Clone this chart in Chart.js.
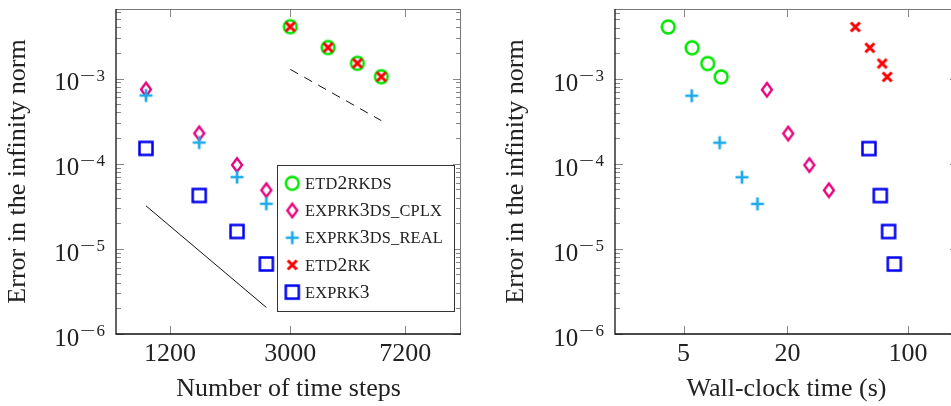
<!DOCTYPE html>
<html>
<head>
<meta charset="utf-8">
<script src="https://cdn.jsdelivr.net/npm/chart.js@4.4.1/dist/chart.umd.min.js"></script>
<style>
  html, body { margin: 0; padding: 0; width: 951px; height: 406px; overflow: hidden; background: #fff; }
  .panel { position: absolute; top: 0; }
</style>
</head>
<body>
<div class="panel" style="left:0"><canvas id="steps" width="470" height="406"></canvas></div>
<div class="panel" style="left:470px"><canvas id="clock" width="500" height="406"></canvas></div>
<script>
// series names (drawn in small caps)
const methodNames = ['etd2rkds', 'exprk3ds_cplx', 'exprk3ds_real', 'etd2rk', 'exprk3'];

// number of time steps
const stepsEtd = [3000, 4000, 5000, 6000];
const stepsRk3 = [1000, 1500, 2000, 2500];

// error in the infinity norm
const errEtd2rkds = [4.06e-3, 2.31e-3, 1.51e-3, 1.05e-3];
const errEtd2rk   = [4.06e-3, 2.31e-3, 1.51e-3, 1.05e-3];
const errCplx     = [7.43e-4, 2.27e-4, 9.66e-5, 4.89e-5];
const errReal     = [6.32e-4, 1.77e-4, 6.96e-5, 3.38e-5];
const errRk3      = [1.51e-4, 4.23e-5, 1.60e-5, 6.64e-6];

// wall-clock time (s)
const timeEtd2rkds = [4.07, 5.6, 6.9, 8.25];
const timeCplx     = [15.2, 20.2, 26.8, 34.8];
const timeReal     = [5.57, 8.09, 10.9, 13.4];
const timeEtd2rk   = [49.5, 60.1, 70.9, 75.8];
const timeRk3      = [59.4, 69.1, 77.2, 83.3];

// reference slopes (order 3 solid, order 2 dashed)
const slope3Steps = [1000, 2500];
const slope3Err   = [3.2e-5, 2.05e-6];
const slope2Steps = [3000, 6000];
const slope2Err   = [1.28e-3, 3.2e-4];

// tick labels
const stepTicks = [1200, 3000, 7200];
const timeTicks = [5, 20, 100];
const errTicks  = [1e-6, 1e-5, 1e-4, 1e-3];

const SERIF = '"Liberation Serif", "Times New Roman", serif';
const TEXT = '#222';

// marker images, one per method
function marker(draw) {
  const c = document.createElement('canvas');
  c.width = 20; c.height = 20;
  const g = c.getContext('2d');
  g.lineCap = 'butt';
  draw(g);
  return c;
}
const markers = {
  etd2rkds: marker(g => {
    g.strokeStyle = '#00e600'; g.lineWidth = 2.5;
    g.beginPath(); g.arc(10, 10, 6.4, 0, Math.PI * 2); g.stroke();
  }),
  exprk3ds_cplx: marker(g => {
    g.strokeStyle = '#e6007e'; g.lineWidth = 2.3;
    g.lineJoin = 'miter';
    g.beginPath(); g.moveTo(10, 3.2); g.lineTo(15, 10); g.lineTo(10, 16.8); g.lineTo(5, 10); g.closePath(); g.stroke();
  }),
  exprk3ds_real: marker(g => {
    g.strokeStyle = '#1eaaea'; g.lineWidth = 2.7;
    g.beginPath(); g.moveTo(3.5, 10); g.lineTo(16.5, 10); g.moveTo(10, 3.5); g.lineTo(10, 16.5); g.stroke();
  }),
  etd2rk: marker(g => {
    g.strokeStyle = '#ff0000'; g.lineWidth = 3;
    g.beginPath(); g.moveTo(5.5, 5.5); g.lineTo(14.5, 14.5); g.moveTo(14.5, 5.5); g.lineTo(5.5, 14.5); g.stroke();
  }),
  exprk3: marker(g => {
    g.strokeStyle = '#0000ee'; g.lineWidth = 2.5;
    g.strokeRect(3.5, 3.5, 13, 13);
  })
};

const pts = (xs, ys) => xs.map((x, i) => ({ x: x, y: ys[i] }));

function scatterSet(name, xs, ys, order) {
  return {
    type: 'scatter', label: name, data: pts(xs, ys), order: order,
    pointStyle: markers[name], pointRadius: 8, showLine: false
  };
}

// inward ticks and box around the plot area
const frame = {
  id: 'frame',
  beforeDatasetsDraw(chart) {
    const { ctx, chartArea: a, scales: { x, y } } = chart;
    ctx.save();
    ctx.strokeStyle = '#888';
    ctx.lineWidth = 1;
    ctx.beginPath();
    const xt = chart.options.plugins.frame.xTicks;
    xt.forEach(v => {
      const px = Math.round(x.getPixelForValue(v)) + 0.5;
      ctx.moveTo(px, a.bottom); ctx.lineTo(px, a.bottom - 8);
      ctx.moveTo(px, a.top); ctx.lineTo(px, a.top + 8);
    });
    for (let e = -6; e <= -3; e++) {
      for (let m = 1; m <= 9; m++) {
        const v = m * Math.pow(10, e);
        if (v > y.max) continue;
        const py = Math.round(y.getPixelForValue(v)) + 0.5;
        const len = m === 1 ? 8 : 5;
        ctx.moveTo(a.left, py); ctx.lineTo(a.left + len, py);
        ctx.moveTo(a.right, py); ctx.lineTo(a.right - len, py);
      }
    }
    ctx.stroke();
    ctx.strokeStyle = '#777';
    ctx.beginPath();
    ctx.moveTo(a.left, a.top + 0.5); ctx.lineTo(a.right, a.top + 0.5);
    ctx.moveTo(a.right - 0.5, a.top); ctx.lineTo(a.right - 0.5, a.bottom);
    ctx.stroke();
    ctx.strokeStyle = '#111';
    ctx.lineWidth = 1.3;
    ctx.beginPath();
    ctx.moveTo(a.left, a.top); ctx.lineTo(a.left, a.bottom); ctx.lineTo(a.right, a.bottom);
    ctx.stroke();
    ctx.restore();
  }
};

// y labels as 10 with a raised exponent
const powerLabels = {
  id: 'powerLabels',
  afterDraw(chart) {
    const { ctx, chartArea: a, scales: { y } } = chart;
    ctx.save();
    ctx.fillStyle = TEXT;
    ctx.textBaseline = 'alphabetic';
    errTicks.forEach(v => {
      const py = y.getPixelForValue(v);
      const exp = String(-Math.round(Math.log10(v)));
      const right = a.left - 11;
      ctx.font = '17px ' + SERIF;
      ctx.textAlign = 'left';
      const wd = ctx.measureText(exp).width;
      ctx.fillText(exp, right - wd, py + 2.3);
      const mw = ctx.measureText('\u2212').width * 1.6;
      const mx = right - wd - 1.5 - mw;
      ctx.save();
      ctx.translate(mx, py + 2.3);
      ctx.scale(1.6, 1);
      ctx.fillText('\u2212', 0, 0);
      ctx.restore();
      ctx.font = '25px ' + SERIF;
      ctx.textAlign = 'right';
      ctx.fillText('10', mx - 0.5, py + 11.8);
    });
    ctx.restore();
  }
};

// legend box inside the first plot
const boxLegend = {
  id: 'boxLegend',
  afterDraw(chart) {
    const opts = chart.options.plugins.boxLegend;
    if (!opts || !opts.show) return;
    const { ctx } = chart;
    ctx.save();
    ctx.fillStyle = '#fff';
    ctx.fillRect(277.5, 165.5, 177, 146);
    ctx.strokeStyle = '#333';
    ctx.lineWidth = 1;
    ctx.strokeRect(277.5, 165.5, 177, 146);
    methodNames.forEach((name, i) => {
      const cy = 183.3 + i * 27.2;
      const img = markers[name];
      ctx.drawImage(img, 292.3 - img.width / 2, cy - img.height / 2);
      let x = 305;
      ctx.fillStyle = TEXT;
      ctx.textAlign = 'left';
      ctx.textBaseline = 'alphabetic';
      for (const ch of name) {
        const small = /[a-z_]/.test(ch);
        const c = small ? ch.toUpperCase() : ch;
        ctx.font = (small ? 16.4 : 19.5) + 'px ' + SERIF;
        ctx.fillText(c, x, cy + 5.7);
        x += ctx.measureText(c).width + 0.2;
      }
    });
    ctx.restore();
  }
};

function options(cfg) {
  return {
    responsive: false,
    animation: false,
    events: [],
    layout: { padding: { left: 0, right: cfg.padRight, top: cfg.padTop, bottom: 0 } },
    plugins: {
      legend: { display: false },
      tooltip: { enabled: false },
      frame: { xTicks: cfg.xTicks },
      boxLegend: { show: cfg.legend }
    },
    scales: {
      x: {
        type: 'logarithmic',
        min: cfg.xMin, max: cfg.xMax,
        afterBuildTicks: s => { s.ticks = cfg.xTicks.map(v => ({ value: v })); },
        afterFit: s => { s.height = 72; },
        grid: { display: false, drawTicks: false },
        border: { display: false },
        ticks: {
          padding: 5, color: TEXT, maxRotation: 0, autoSkip: false,
          font: { family: SERIF, size: 26, lineHeight: 1.2 },
          callback: v => String(v)
        },
        title: {
          display: true, text: cfg.xTitle, color: TEXT,
          font: { family: SERIF, size: 26, lineHeight: 1.2 },
          padding: { top: 0, bottom: 1.2 }
        }
      },
      y: {
        type: 'logarithmic',
        min: 1e-6, max: cfg.yMax,
        afterBuildTicks: s => { s.ticks = errTicks.map(v => ({ value: v })); },
        afterFit: s => { s.width = cfg.yWidth; },
        grid: { display: false, drawTicks: false },
        border: { display: false },
        ticks: { display: false },
        title: {
          display: true, text: 'Error in the infinity norm', color: TEXT,
          font: { family: SERIF, size: 26, lineHeight: 1.2 },
          padding: { top: cfg.yTitlePad, bottom: 0 }
        }
      }
    }
  };
}

Chart.register(frame, powerLabels, boxLegend);

new Chart(document.getElementById('steps'), {
  type: 'scatter',
  data: {
    datasets: [
      scatterSet('etd2rk', stepsEtd, errEtd2rk, 1),
      scatterSet('etd2rkds', stepsEtd, errEtd2rkds, 2),
      scatterSet('exprk3ds_real', stepsRk3, errReal, 3),
      scatterSet('exprk3ds_cplx', stepsRk3, errCplx, 4),
      scatterSet('exprk3', stepsRk3, errRk3, 5),
      { type: 'line', label: 'order 3', data: pts(slope3Steps, slope3Err), order: 6,
        borderColor: '#111', borderWidth: 1, pointRadius: 0 },
      { type: 'line', label: 'order 2', data: pts(slope2Steps, slope2Err), order: 6,
        borderColor: '#111', borderWidth: 1, pointRadius: 0, borderDash: [9, 7] }
    ]
  },
  options: options({
    xMin: 796, xMax: 11000, yMax: 6.55e-3, xTicks: stepTicks,
    xTitle: 'Number of time steps', padRight: 8, padTop: 8, yWidth: 116,
    yTitlePad: 2.6, legend: true
  })
});

new Chart(document.getElementById('clock'), {
  type: 'scatter',
  data: {
    datasets: [
      scatterSet('etd2rk', timeEtd2rk, errEtd2rk, 1),
      scatterSet('etd2rkds', timeEtd2rkds, errEtd2rkds, 2),
      scatterSet('exprk3ds_real', timeReal, errReal, 3),
      scatterSet('exprk3ds_cplx', timeCplx, errCplx, 4),
      scatterSet('exprk3', timeRk3, errRk3, 5)
    ]
  },
  options: options({
    xMin: 2, xMax: 195, yMax: 6.6e-3, xTicks: timeTicks,
    xTitle: 'Wall-clock time (s)', padRight: 12, padTop: 9, yWidth: 145,
    yTitlePad: 31, legend: false
  })
});
</script>
</body>
</html>
